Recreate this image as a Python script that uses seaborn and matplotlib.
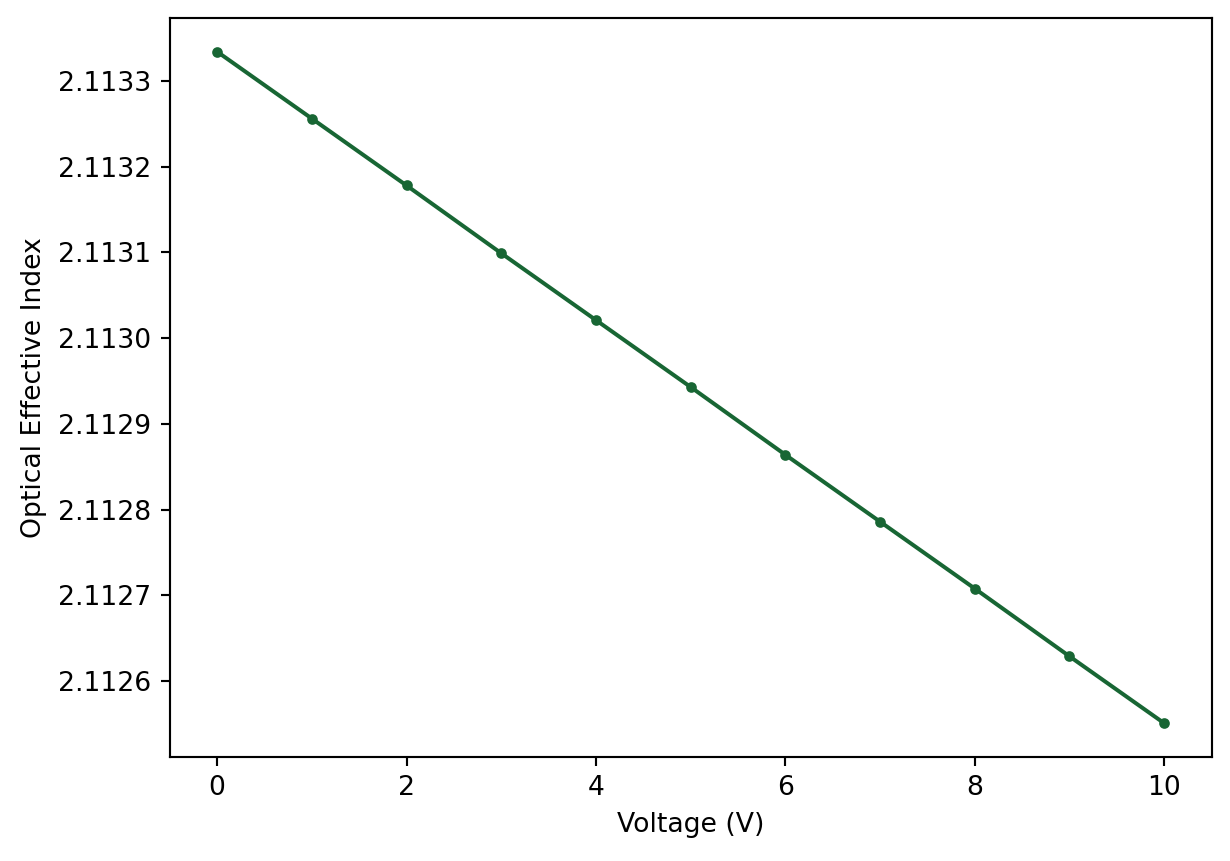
import seaborn as sns
import matplotlib.pyplot as plt
import pandas as pd
from matplotlib.ticker import ScalarFormatter

voltage = [0, 1, 2, 3, 4, 5, 6, 7, 8, 9, 10]
n_eff = [2.113334, 2.113256, 2.113178, 2.113099, 2.113021, 2.112943,
         2.112864, 2.112786, 2.112708, 2.112629, 2.112551]

df = pd.DataFrame({'Voltage (V)': voltage, 'Optical Effective Index': n_eff})

# plain matplotlib look, no seaborn theme
plt.rcParams['font.family'] = ['DejaVu Sans']

fig, ax = plt.subplots(figsize=(1230 / 192, 861 / 192), dpi=192)
sns.lineplot(data=df, x='Voltage (V)', y='Optical Effective Index',
             color='#186634', marker='o', markersize=4, markeredgewidth=0,
             linewidth=1.5, ax=ax)
ax.yaxis.set_major_formatter(ScalarFormatter(useOffset=False))
ax.set_xlabel('Voltage (V)')
ax.set_ylabel('Optical Effective Index')
fig.subplots_adjust(left=0.138, right=0.985, top=0.979, bottom=0.121)
fig.savefig('out.png', dpi=192)
